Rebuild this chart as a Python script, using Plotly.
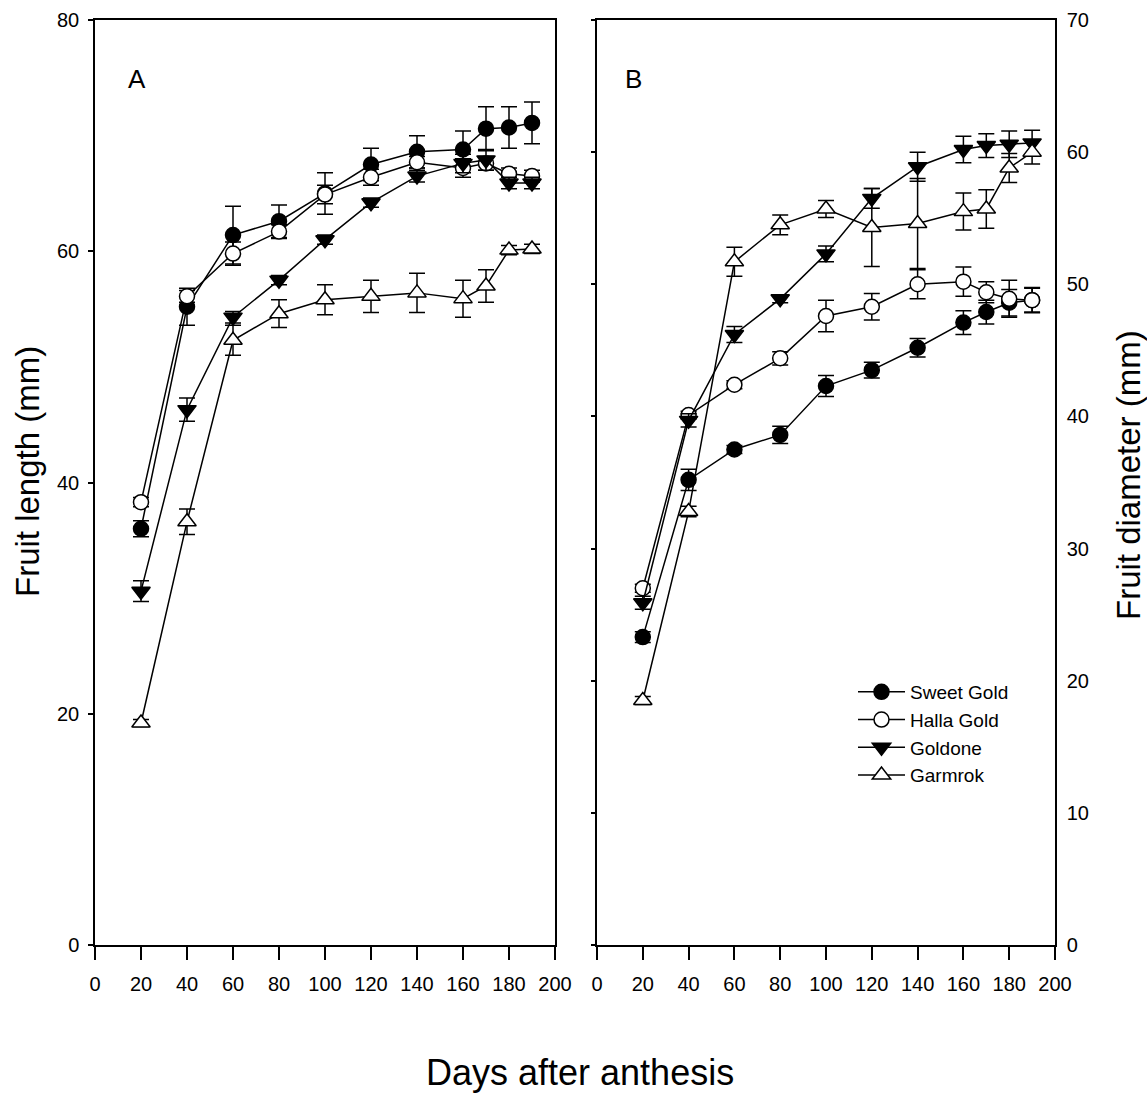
import plotly.graph_objects as go

days = [20, 40, 60, 80, 100, 120, 140, 160, 170, 180, 190]
names = ["Sweet Gold", "Halla Gold", "Goldone", "Garmrok"]

# Panel A: fruit length (mm)
len_sweet = [36.0, 55.2, 61.4, 62.6, 65.0, 67.5, 68.6, 68.8, 70.6, 70.7, 71.1]
len_sweet_err = [0.7, 1.6, 2.5, 1.4, 1.8, 1.4, 1.4, 1.6, 1.9, 1.8, 1.8]
len_halla = [38.3, 56.1, 59.8, 61.7, 64.9, 66.4, 67.7, 67.2, 67.6, 66.7, 66.5]
len_halla_err = [0.4, 0.5, 1.0, 0.6, 0.8, 0.7, 0.5, 0.8, 0.6, 0.5, 0.5]
len_goldone = [30.6, 46.3, 54.3, 57.5, 61.0, 64.2, 66.5, 67.6, 67.9, 65.9, 65.9]
len_goldone_err = [0.9, 1.0, 0.5, 0.4, 0.4, 0.4, 0.5, 0.8, 0.9, 0.5, 0.5]
len_garmrok = [19.2, 36.6, 52.3, 54.6, 55.8, 56.1, 56.4, 55.9, 57.0, 60.1, 60.2]
len_garmrok_err = [0.3, 1.1, 1.3, 1.2, 1.3, 1.4, 1.7, 1.6, 1.4, 0.4, 0.4]

# Panel B: fruit diameter (mm)
dia_sweet = [23.3, 35.2, 37.5, 38.6, 42.3, 43.5, 45.2, 47.1, 47.9, 48.6, 48.8]
dia_sweet_err = [0.4, 0.8, 0.3, 0.65, 0.8, 0.6, 0.7, 0.9, 0.9, 1.0, 0.9]
dia_halla = [27.0, 40.1, 42.4, 44.4, 47.6, 48.3, 50.0, 50.2, 49.4, 48.9, 48.8]
dia_halla_err = [0.3, 0.3, 0.3, 0.5, 1.2, 1.0, 1.1, 1.1, 0.8, 1.4, 0.95]
dia_goldone = [25.9, 39.7, 46.2, 48.9, 52.3, 56.5, 58.9, 60.2, 60.5, 60.6, 60.7]
dia_goldone_err = [0.5, 0.5, 0.6, 0.3, 0.6, 0.75, 1.1, 1.0, 0.9, 1.0, 0.95]
dia_garmrok = [18.5, 32.8, 51.7, 54.5, 55.7, 54.3, 54.6, 55.5, 55.7, 58.8, 60.0]
dia_garmrok_err = [0.3, 0.4, 1.1, 0.75, 0.65, 2.95, 3.4, 1.4, 1.45, 1.1, 0.9]

fills = ["black", "white", "black", "white"]
FONT = "Liberation Sans, Arial, sans-serif"

fig = go.Figure()

panelA = [(len_sweet, len_sweet_err), (len_halla, len_halla_err),
          (len_goldone, len_goldone_err), (len_garmrok, len_garmrok_err)]
panelB = [(dia_sweet, dia_sweet_err), (dia_halla, dia_halla_err),
          (dia_goldone, dia_goldone_err), (dia_garmrok, dia_garmrok_err)]


def marker(i):
    sym = "circle" if i < 2 else ("triangle-down" if i == 2 else "triangle-up")
    return dict(symbol=sym, size=15 if i < 2 else 16, color=fills[i],
                line=dict(color="black", width=1.5))


for i, (vals, errs) in enumerate(panelA):
    fig.add_trace(go.Scatter(
        x=days, y=vals, mode="lines+markers", name=names[i],
        line=dict(color="black", width=1.5), marker=marker(i),
        error_y=dict(type="data", array=errs, visible=True, color="black",
                     thickness=1.5, width=8),
        showlegend=False, xaxis="x", yaxis="y"))

for i, (vals, errs) in enumerate(panelB):
    fig.add_trace(go.Scatter(
        x=days, y=vals, mode="lines+markers", name=names[i],
        line=dict(color="black", width=1.5), marker=marker(i),
        error_y=dict(type="data", array=errs, visible=True, color="black",
                     thickness=1.5, width=8),
        showlegend=True, xaxis="x2", yaxis="y2"))

W, H = 1147, 1097
ydom = [1 - 945 / H, 1 - 20 / H]
tickfont = dict(family=FONT, size=20, color="black")

xcommon = dict(range=[0, 200], dtick=20, tick0=0, ticks="outside", ticklen=13,
               tickwidth=1.5, tickcolor="black", showline=True, linecolor="black",
               linewidth=1.5, mirror=True, showgrid=False, zeroline=False,
               tickfont=tickfont, automargin=False, ticklabelstandoff=7)

fig.update_layout(
    width=W, height=H,
    margin=dict(l=0, r=0, t=0, b=0),
    plot_bgcolor="white", paper_bgcolor="white",
    font=dict(family=FONT, color="black"),
    xaxis=dict(domain=[95 / W, 555 / W], anchor="y", **xcommon),
    xaxis2=dict(domain=[597 / W, 1055 / W], anchor="y2", **xcommon),
    yaxis=dict(domain=ydom, anchor="x", range=[0, 80], dtick=20, ticks="outside",
               ticklen=5, tickwidth=1.5, tickcolor="black", showline=True,
               linecolor="black", linewidth=1.5, mirror=True, showgrid=False,
               zeroline=False, tickfont=tickfont, automargin=False,
               ticklabelstandoff=5),
    yaxis2=dict(domain=ydom, anchor="x2", side="right", range=[0, 70], dtick=10,
                ticks="", showline=True, linecolor="black", linewidth=1.5,
                mirror=True, showgrid=False, zeroline=False, tickfont=tickfont,
                automargin=False, ticklabelstandoff=6),
    yaxis3=dict(domain=ydom, anchor="x2", side="left", overlaying="y2",
                range=[0, 70], dtick=10, ticks="outside", ticklen=5, tickwidth=1.5,
                tickcolor="black", showticklabels=False, showline=False,
                showgrid=False, zeroline=False, automargin=False),
    legend=dict(x=853 / W, y=1 - 673 / H, xanchor="left", yanchor="top",
                font=dict(family=FONT, size=19, color="black"),
                bgcolor="rgba(0,0,0,0)", tracegroupgap=0, itemwidth=47),
    annotations=[
        dict(text="A", x=137 / W, y=1 - 79 / H, xref="paper", yref="paper",
             xanchor="center", yanchor="middle",
             showarrow=False, font=dict(family=FONT, size=26)),
        dict(text="B", x=633 / W, y=1 - 79 / H, xref="paper", yref="paper",
             xanchor="center", yanchor="middle",
             showarrow=False, font=dict(family=FONT, size=26)),
        dict(text="Days after anthesis", x=580 / W, y=1 - 1072 / H, xref="paper",
             yref="paper", xanchor="center", yanchor="middle",
             showarrow=False, font=dict(family=FONT, size=36)),
        dict(text="Fruit length (mm)", x=28 / W, y=1 - 472 / H, xref="paper",
             yref="paper", xanchor="center", yanchor="middle",
             showarrow=False, textangle=-90,
             font=dict(family=FONT, size=33)),
        dict(text="Fruit diameter (mm)", x=1128 / W, y=1 - 475 / H, xref="paper",
             yref="paper", xanchor="center", yanchor="middle",
             showarrow=False, textangle=-90,
             font=dict(family=FONT, size=33)),
    ],
)

# helper trace to activate yaxis3 (left-side ticks of panel B)
fig.add_trace(go.Scatter(x=[None], y=[None], xaxis="x2", yaxis="y3",
                         showlegend=False, hoverinfo="skip"))

fig.write_html("out.html")
